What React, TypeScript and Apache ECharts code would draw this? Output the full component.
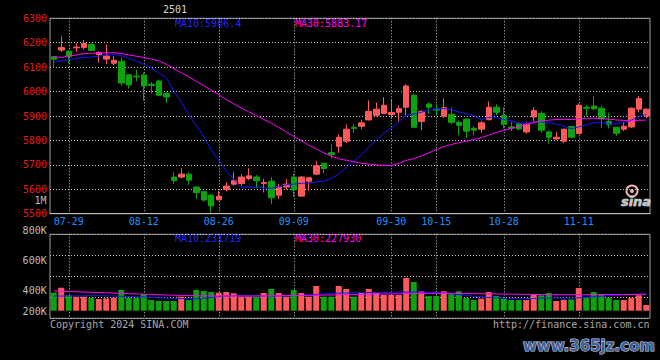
import React, { useEffect, useRef } from "react";
import * as echarts from "echarts";

const title = "2501";
const dates = [
  "07-25","07-26","07-29","07-30","07-31",
  "08-01","08-02","08-05","08-06","08-07","08-08","08-09","08-12","08-13","08-14","08-15","08-16","08-19","08-20","08-21","08-22","08-23","08-26","08-27","08-28","08-29","08-30",
  "09-02","09-03","09-04","09-05","09-06","09-09","09-10","09-11","09-12","09-13","09-18","09-19","09-20","09-23","09-24","09-25","09-26","09-27","09-30",
  "10-08","10-09","10-10","10-11","10-14","10-15","10-16","10-17","10-18","10-21","10-22","10-23","10-24","10-25","10-28","10-29","10-30","10-31",
  "11-01","11-04","11-05","11-06","11-07","11-08","11-11","11-12","11-13","11-14","11-15","11-18","11-19","11-20","11-21","11-22"
];
const tickDates = ["07-29","08-12","08-26","09-09","09-30","10-15","10-28","11-11"];

const opens = [6143,6170,6165,6179,6181,6193,6151,6133,6116,6124,6069,6063,6068,6030,6043,5993,5650,5650,5662,5609,5590,5576,5557,5599,5621,5624,5644,5650,5624,5633,5576,5609,5650,5572,5633,5662,5707,5750,5776,5797,5854,5858,5884,5903,5911,5906,5915,5936,5985,5878,5949,5928,5899,5907,5874,5887,5850,5846,5885,5936,5903,5855,5868,5835,5896,5911,5835,5806,5797,5857,5828,5936,5941,5932,5878,5854,5846,5855,5928,5900];
const closes = [6132,6180,6143,6182,6197,6168,6160,6146,6128,6035,6027,6060,6023,6025,5985,5978,5635,5662,5637,5586,5556,5532,5571,5613,5635,5650,5655,5635,5628,5565,5609,5621,5597,5650,5647,5696,5685,5742,5813,5846,5849,5872,5919,5928,5944,5914,5930,6023,5854,5919,5936,5924,5934,5874,5862,5838,5842,5872,5936,5915,5866,5850,5847,5866,5922,5842,5813,5813,5846,5813,5944,5932,5929,5888,5865,5829,5858,5932,5972,5928];
const lows = [6099,6162,6114,6162,6173,6165,6118,6113,6107,6023,6012,6043,5962,5992,5982,5953,5621,5645,5618,5561,5549,5504,5554,5591,5614,5614,5637,5605,5587,5539,5560,5599,5569,5570,5594,5658,5666,5726,5749,5789,5831,5846,5882,5898,5908,5888,5878,5899,5850,5842,5908,5903,5892,5866,5821,5810,5821,5831,5882,5903,5849,5838,5842,5827,5878,5831,5786,5803,5789,5808,5825,5899,5923,5851,5849,5819,5839,5851,5915,5892];
const highs = [6146,6226,6170,6197,6211,6201,6166,6193,6147,6140,6070,6090,6078,6039,6049,5998,5670,5686,5670,5611,5594,5580,5594,5629,5670,5662,5686,5658,5643,5650,5622,5641,5665,5655,5649,5715,5708,5784,5825,5865,5865,5885,5964,5955,5977,5967,5944,6030,5990,5923,5955,5949,5972,5936,5881,5890,5858,5880,5960,5948,5936,5876,5876,5876,5936,5919,5842,5835,5848,5858,5951,5944,5981,5944,5914,5855,5876,5936,5981,5930];

const ma10 = [6122,6125,6130,6136,6140,6141,6145,6150,6152,6147.1,6136.6,6124.6,6112.6,6096.9,6075.7,6056.7,6004.2,5955.8,5906.7,5861.8,5814.7,5761.9,5716.7,5675.5,5640.5,5607.7,5609.7,5607.0,5606.1,5604.0,5609.3,5618.2,5620.8,5624.5,5625.7,5630.3,5633.3,5644.0,5662.5,5690.6,5714.6,5739.7,5771.9,5799.7,5829.4,5851.2,5875.7,5903.8,5907.9,5915.2,5923.9,5929.1,5930.6,5925.2,5917.0,5909.4,5900.6,5885.5,5893.7,5893.3,5886.3,5878.9,5870.2,5869.4,5875.4,5875.8,5872.9,5867.0,5858.0,5847.8,5855.6,5863.8,5872.0,5874.2,5868.5,5867.2,5871.7,5883.6,5896.2,5906.4];
const ma30 = [6142,6140,6145,6150,6155,6157,6158,6159,6159,6156,6150,6145,6139,6133,6126,6112,6094,6077,6060,6042,6024,6005,5988,5968,5950,5933,5917,5902,5886,5871.0,5853.5,5834.9,5816.7,5799.0,5780.6,5764.9,5749.1,5735.6,5725.1,5718.8,5712.9,5706.6,5703.1,5699.9,5698.5,5696.4,5706.2,5718.3,5725.5,5736.6,5749.3,5762.3,5774.4,5783.1,5790.7,5797.0,5803.2,5811.1,5821.4,5833.0,5841.6,5849.2,5857.6,5864.8,5873.9,5878.8,5883.1,5885.4,5886.5,5885.4,5888.6,5890.6,5890.9,5889.6,5887.0,5884.1,5881.7,5878.7,5882.6,5883.17];

const volumes = [244000,291000,222000,206000,206000,196000,184000,190000,196000,270000,196000,196000,231000,174000,165000,165000,165000,206000,174000,270000,260000,250000,244000,250000,238000,206000,206000,206000,241000,279000,241000,206000,270000,241000,206000,308000,206000,206000,308000,279000,206000,241000,279000,241000,222000,222000,222000,384000,346000,257000,212000,212000,257000,231000,257000,193000,174000,187000,250000,212000,187000,174000,174000,174000,225000,219000,241000,165000,177000,180000,289000,196000,250000,231000,196000,174000,174000,196000,219000,127000];
const volMa10 = [212000,212000,213000,214000,214000,215000,215000,214000,212000,210000,207000,205000,203000,200000,196000,192000,190000,188000,186000,187000,192000,198000,206000,212000,214000,215000,214000,213000,212000,212000,213000,214000,216000,218000,222000,228000,232000,236000,240000,242000,244000,245000,246000,246000,246000,247000,249000,250000,251000,250000,248000,245000,240000,232000,225000,218000,210000,204000,198000,195000,192000,190000,189000,188000,190000,192000,193000,193000,192000,192000,196000,200000,205000,210000,215000,220000,224000,228000,230000,231719];
const volMa30 = [260000,258000,255000,252000,250000,247000,245000,243000,240000,238000,235000,232000,230000,228000,225000,222000,220000,218000,216000,215000,214000,213000,213000,212000,212000,212000,212000,213000,214000,214000,215000,216000,217000,218000,219000,220000,221000,222000,224000,225000,226000,227000,228000,230000,231000,232000,233000,235000,236000,237000,238000,238000,238000,238000,237000,236000,235000,234000,233000,232000,231000,230000,229000,228000,227000,226000,225000,224000,224000,224000,224000,224000,225000,225000,226000,226000,227000,227000,228000,227930];

const volTickLabels = ["800K", "600K", "400K", "200K"];
const priceMaLabels = ["MA10:5906.4", "MA30:5883.17"];
const volMaLabels = ["MA10:231719", "MA30:227930"];

const UP = "#ff5a5a";
const DOWN = "#0ca30c";
const MONO = '"DejaVu Sans Mono", monospace';
const GRID_DOT = { color: "#c8c8c8", width: 1, type: [1, 2] as any };

export default function App() {
  const ref = useRef<HTMLDivElement>(null);
  useEffect(() => {
    if (!ref.current) return;
    const chart = echarts.init(ref.current, undefined, { renderer: "svg" });
    const isTick = (_i: number, v: string) => tickDates.indexOf(v) >= 0;
    const candles = dates.map((_, i) => [opens[i], closes[i], lows[i], highs[i]]);
    const volData = volumes.map((v, i) => ({
      value: v,
      itemStyle: { color: closes[i] >= opens[i] ? UP : DOWN },
    }));
    const volLabelY = [230.7, 260.7, 290.7, 311];
    const graphics: any[] = [
      { type: "text", x: 175, y: 9, style: { text: title, fill: "#d8d8d8", font: `10px ${MONO}`, textAlign: "center", textVerticalAlign: "middle", textShadowColor: "#666", textShadowOffsetX: 1, textShadowOffsetY: 1 } },
      { type: "text", x: 175, y: 23.5, style: { text: priceMaLabels[0], fill: "#2222ff", font: `10px ${MONO}`, textVerticalAlign: "middle" } },
      { type: "text", x: 295, y: 23.5, style: { text: priceMaLabels[1], fill: "#ff00ff", font: `10px ${MONO}`, textVerticalAlign: "middle" } },
      { type: "text", x: 46.5, y: 200.7, style: { text: "1M", fill: "#bbbbbb", font: `10px ${MONO}`, textAlign: "right", textVerticalAlign: "middle" } },
      { type: "text", x: 175, y: 238.5, style: { text: volMaLabels[0], fill: "#2222ff", font: `10px ${MONO}`, textVerticalAlign: "middle" } },
      { type: "text", x: 295, y: 238.5, style: { text: volMaLabels[1], fill: "#ff00ff", font: `10px ${MONO}`, textVerticalAlign: "middle" } },
      { type: "text", x: 50, y: 324, style: { text: "Copyright 2024 SINA.COM", fill: "#a8a8a8", font: `10px ${MONO}`, textVerticalAlign: "middle" } },
      { type: "text", x: 649.5, y: 324, style: { text: "http://finance.sina.com.cn", fill: "#a8a8a8", font: `10px ${MONO}`, textAlign: "right", textVerticalAlign: "middle" } },
      { type: "text", x: 655, y: 346, style: { text: "www.365jz.com", fill: "#3f5f95", font: 'bold 15px "DejaVu Sans"', textAlign: "right", textVerticalAlign: "middle", stroke: "#c8d2e6", lineWidth: 1.2 } },
      { type: "circle", shape: { cx: 632, cy: 191, r: 5.5 }, style: { fill: "none", stroke: "#f2b0b0", lineWidth: 2 } },
      { type: "circle", shape: { cx: 632, cy: 191, r: 2 }, style: { fill: "#f2b0b0" } },
      { type: "text", x: 636, y: 201, style: { text: "sina", fill: "#c8c8c8", font: 'italic bold 13px "DejaVu Sans"', textAlign: "center", textVerticalAlign: "middle", stroke: "#eeeeee", lineWidth: 0.5 } },
    ];
    volTickLabels.forEach((t, k) => {
      graphics.push({ type: "text", x: 46.7, y: volLabelY[k], style: { text: t, fill: "#bdbdbd", font: `10px ${MONO}`, textAlign: "right", textVerticalAlign: "middle" } });
    });

    chart.setOption({
      animation: false,
      backgroundColor: "#000000",
      grid: [
        { left: 50, right: 10, top: 18.3, height: 195.4, show: true, borderColor: "#a0a0a0", borderWidth: 1, backgroundColor: "transparent" },
        { left: 50, right: 10, top: 234.3, height: 84, show: true, borderColor: "#a0a0a0", borderWidth: 1, backgroundColor: "transparent" },
        { left: 50, right: 10, top: 234.3, height: 76.4, show: false },
      ],
      xAxis: [
        {
          type: "category", gridIndex: 0, data: dates, boundaryGap: true,
          axisLine: { show: true, lineStyle: { color: "#c0c0c0", width: 1 } },
          axisTick: { show: false },
          axisLabel: { interval: isTick, color: "#1e90ff", fontFamily: "DejaVu Sans Mono", fontSize: 10, margin: 3 },
          splitLine: { show: true, interval: isTick, alignWithLabel: true, lineStyle: GRID_DOT } as any,
        },
        {
          type: "category", gridIndex: 1, data: dates, boundaryGap: true,
          axisLine: { show: false }, axisTick: { show: false }, axisLabel: { show: false },
          splitLine: { show: true, interval: isTick, alignWithLabel: true, lineStyle: GRID_DOT } as any,
        },
        { type: "category", gridIndex: 2, data: dates, boundaryGap: true, show: false },
      ],
      yAxis: [
        {
          type: "value", gridIndex: 0, min: 5500, max: 6300, interval: 100,
          axisLine: { show: false }, axisTick: { show: false },
          axisLabel: { color: "#e41b1b", fontFamily: "DejaVu Sans Mono", fontSize: 10, margin: 3, formatter: (v: number) => String(v) },
          splitLine: { show: true, lineStyle: GRID_DOT },
        },
        {
          type: "value", gridIndex: 1, min: 0, max: 800000, interval: 200000,
          axisLine: { show: false }, axisTick: { show: false }, axisLabel: { show: false },
          splitLine: { show: true, lineStyle: GRID_DOT },
        },
        { type: "value", gridIndex: 2, min: 72400, max: 800000, show: false, splitLine: { show: false } },
      ],
      series: [
        {
          type: "candlestick", xAxisIndex: 0, yAxisIndex: 0, data: candles, barWidth: 6,
          itemStyle: { color: UP, color0: DOWN, borderColor: UP, borderColor0: DOWN, borderWidth: 1 },
        },
        { type: "line", xAxisIndex: 0, yAxisIndex: 0, data: ma10, symbol: "none", lineStyle: { color: "#1515ff", width: 1 }, z: 5 },
        { type: "line", xAxisIndex: 0, yAxisIndex: 0, data: ma30, symbol: "none", lineStyle: { color: "#ff00ff", width: 1 }, z: 5 },
        { type: "bar", xAxisIndex: 2, yAxisIndex: 2, data: volData, barWidth: 6, clip: true },
        { type: "line", xAxisIndex: 1, yAxisIndex: 1, data: volMa10, symbol: "none", lineStyle: { color: "#1515ff", width: 1 }, z: 5 },
        { type: "line", xAxisIndex: 1, yAxisIndex: 1, data: volMa30, symbol: "none", lineStyle: { color: "#ff00ff", width: 1 }, z: 5 },
      ],
      graphic: graphics,
    });
    return () => chart.dispose();
  }, []);
  return <div ref={ref} style={{ position: "fixed", left: 0, top: 0, width: 660, height: 360 }} />;
}
